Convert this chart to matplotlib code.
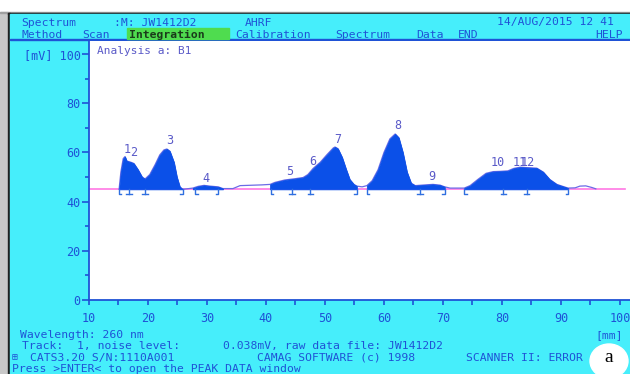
import numpy as np
import matplotlib.pyplot as plt
from matplotlib.patches import Rectangle, Ellipse

# ── data ──────────────────────────────────────────────────
pos_mm = [15.1, 15.4, 15.8, 16.1, 16.4, 17.1, 17.6, 18.3, 19.0, 19.5,
          20.3, 21.2, 22.0, 22.7, 23.2, 23.7, 24.4, 24.9, 25.4, 25.9,
          27.6, 28.5, 29.5, 30.5, 31.9, 32.7, 34.4, 35.6, 39.3, 40.7,
          41.5, 43.2, 44.9, 46.3, 47.1, 48.0, 49.2, 50.3, 51.4, 51.7,
          52.2, 52.9, 53.6, 54.2, 54.9, 55.4, 56.3, 57.1, 58.0, 59.0,
          60.0, 61.0, 61.9, 62.5, 63.2, 63.9, 64.6, 65.3, 67.0, 68.3,
          69.5, 70.3, 71.2, 73.6, 74.6, 75.9, 77.3, 78.5, 79.7, 81.0,
          82.0, 83.1, 84.4, 85.9, 87.0, 88.1, 89.3, 90.3, 91.2, 92.4,
          93.2, 94.2, 95.3, 95.9]
signal_mv = [45.0, 52.0, 57.5, 58.3, 56.5, 56.0, 55.5, 53.0, 50.0, 49.2,
             51.0, 55.0, 59.0, 61.0, 61.4, 60.5, 56.0, 50.0, 46.0, 45.0,
             45.5, 46.2, 46.6, 46.3, 46.0, 45.3, 45.3, 46.5, 46.8, 47.0,
             47.8, 48.8, 49.3, 49.8, 51.0, 53.5, 56.0, 59.0, 61.8, 62.2,
             61.5, 58.0, 53.0, 49.0, 47.0, 46.3, 46.0, 46.5, 48.5, 53.0,
             60.0, 65.5, 67.5, 66.0, 60.0, 52.0, 47.5, 46.5, 46.8, 47.0,
             46.7, 46.0, 45.5, 45.5, 46.5, 49.0, 51.5, 52.2, 52.3, 52.5,
             53.5, 54.0, 53.8, 53.6, 52.0, 49.0, 47.0, 46.2, 45.5, 45.6,
             46.3, 46.4, 45.7, 45.2]
BASELINE = 45.0

peak_zones = [(15.1, 25.9), (27.6, 32.7), (40.7, 55.4), (57.1, 70.3), (73.6, 91.2)]
mark_start = [15.1, 28.0, 40.8, 57.1, 73.6]
mark_end = [25.9, 31.9, 55.4, 70.3, 91.2]
mark_mid = [16.8, 19.5, 44.4, 47.5, 66.1, 80.2, 84.2]

peak_ids = ["1", "2", "3", "4", "5", "6", "7", "8", "9", "10", "11", "12"]
peak_lx = [16.4, 17.6, 23.7, 29.9, 44.1, 47.9, 52.2, 62.4, 68.1, 79.3, 83.0, 84.3]
peak_ly = [61.0, 59.9, 64.8, 49.6, 52.2, 56.2, 65.3, 71.1, 50.1, 55.7, 56.1, 56.1]

y_ticks = [0, 20, 40, 60, 80, 100]
y_labels = ["0", "20", "40", "60", "80", "[mV] 100"]
x_ticks = [10, 20, 30, 40, 50, 60, 70, 80, 90, 100]

# ── colours / fonts ───────────────────────────────────────
CYAN = "#46EEFB"
BLUE = "#1f52d6"
FILL = "#0b50e8"
PINK = "#ff78e4"
LBL = "#5a5ac8"
MONO = ["DejaVu Sans Mono", "DejaVu Sans"]
FS = 8.5
FS_SCR = 8.2   # screen text lines are packed tight

W, H = 630, 374
fig = plt.figure(figsize=(W / 100, H / 100), dpi=100, facecolor="white")


def fx(x):
    return x / W


def fy(y):
    return 1 - y / H


def rect(x0, y0, x1, y1, color):
    fig.patches.append(Rectangle((fx(x0), fy(y1)), fx(x1) - fx(x0), fy(y0) - fy(y1),
                                 transform=fig.transFigure, color=color, zorder=-2))


def txt(x, y, s, color=BLUE, ha="left", size=FS_SCR, **kw):
    # y is the text baseline in pixels
    fig.text(fx(x), fy(y), s, color=color, ha=ha, va="baseline",
             family=MONO, fontsize=size, **kw)


# window frame + cyan screen
rect(0, 12, 8, H, "#c8c8c8")
rect(0, 12, W, 13, "#a0a0a0")
rect(8, 13, 10, H, "#202020")
rect(8, 13, W, 14, "#202020")
rect(10, 14, W, H, CYAN)
rect(10, 39, W, 40.3, BLUE)

# header lines
txt(21, 25.5, "Spectrum")
txt(114, 25.5, ":M: JW1412D2")
txt(245, 25.5, "AHRF")
txt(497, 25.5, "14/AUG/2015 12 41")
rect(127, 28, 229, 38.5, "#4fdc4f")
for x, s in [(22, "Method"), (82, "Scan"), (235, "Calibration"), (335, "Spectrum"),
             (416, "Data"), (458, "END"), (595, "HELP")]:
    txt(x, 37.5, s)
txt(129, 37.5, "Integration", color="#1a3a1a", fontweight="bold")

# footer lines
txt(20, 338, "Wavelength: 260 nm")
txt(595, 338, "[mm]")
txt(22, 349, "Track:  1, noise level:")
txt(223, 349, "0.038mV, raw data file: JW1412D2")
txt(12, 360, "\u229e", size=7)
txt(30, 361, "CATS3.20 S/N:1110A001")
txt(257, 361, "CAMAG SOFTWARE (c) 1998")
txt(583, 361, "SCANNER II: ERROR", ha="right")
txt(12, 372.5, "Press >ENTER< to open the PEAK DATA window")

fig.patches.append(Ellipse((fx(609), fy(361)), 38 / W, 34 / H, transform=fig.transFigure,
                           color="white", zorder=1))
fig.text(fx(609), fy(358), "a", ha="center", va="center", fontsize=14,
         family="Liberation Serif", color="black", zorder=2)

# ── plot area ─────────────────────────────────────────────
ax = fig.add_axes([fx(89), fy(300), fx(630) - fx(89), fy(41) - fy(300)])
ax.set_zorder(0)
ax.set_facecolor("white")
ax.set_xlim(10, 101.7)
ax.set_ylim(0, 105.3)

x = np.array(pos_mm)
y = np.array(signal_mv)
ax.plot([10, 100.8], [BASELINE, BASELINE], color=PINK, lw=1.2, zorder=1)
ax.plot(x, y, color="#6b6be6", lw=0.9, zorder=2)
for a, b in peak_zones:
    m = (x >= a) & (x <= b)
    ax.fill_between(x[m], BASELINE, y[m], color=FILL, lw=0.6, zorder=3)

# integration markers under the baseline
mk = dict(color="#2f6fe0", lw=1.0, zorder=4, clip_on=False)
for s in mark_start:
    ax.plot([s + 0.4, s, s], [43.0, 43.0, BASELINE], **mk)
for e in mark_end:
    ax.plot([e - 0.4, e, e], [43.0, 43.0, BASELINE], **mk)
for c in mark_mid:
    ax.plot([c, c], [43.0, BASELINE], **mk)
    ax.plot([c - 0.45, c + 0.45], [43.0, 43.0], **mk)

for s, px, py in zip(peak_ids, peak_lx, peak_ly):
    ax.text(px, py, s, ha="center", va="center", color=LBL, family=MONO,
            fontsize=FS, zorder=5)

ax.text(0.015, 0.96, "Analysis a: B1", transform=ax.transAxes, color=LBL,
        family=MONO, fontsize=FS - 0.5, va="center", ha="left")

for side in ["top", "right"]:
    ax.spines[side].set_visible(False)
for side in ["left", "bottom"]:
    ax.spines[side].set_color(BLUE)
    ax.spines[side].set_linewidth(1.3)

ax.set_yticks(y_ticks)
ax.set_yticklabels(y_labels)
ax.set_yticks([10, 30, 50, 70, 90], minor=True)
ax.set_xticks(x_ticks)
ax.set_xticklabels([str(t) for t in x_ticks])
ax.set_xticks([15, 25, 35, 45, 55, 65, 75, 85, 95], minor=True)
ax.tick_params(axis="y", which="major", length=5, width=1.2, color=BLUE, pad=1,
               labelcolor=BLUE, labelsize=FS)
ax.tick_params(axis="y", which="minor", length=3, width=1.2, color=BLUE)
ax.tick_params(axis="x", which="both", length=3.5, width=1.2, color=BLUE, pad=5,
               labelcolor=BLUE, labelsize=FS)
for lab in ax.get_xticklabels() + ax.get_yticklabels():
    lab.set_family(MONO)

fig.savefig("out.png", dpi=100, facecolor="white")
